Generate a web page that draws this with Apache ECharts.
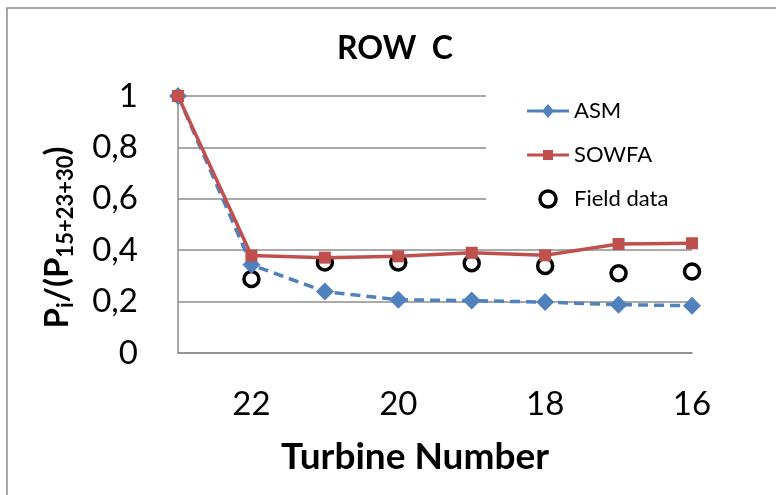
<!DOCTYPE html>
<html lang="en">
  <head>
    <meta charset="UTF-8" />
    <title>ROW C</title>
    <script src="https://cdn.jsdelivr.net/npm/echarts@6/dist/echarts.min.js"></script>
    <style>
      body { margin: 0; background: #fff; }
      #main { width: 776px; height: 495px; }
    </style>
  </head>
  <body>
    <div id="main"></div>
    <script type="text/javascript">
      const turbines = ["23", "22", "21", "20", "19", "18", "17", "16"]
      const asm = [1.0, 0.343, 0.239, 0.207, 0.204, 0.198, 0.188, 0.184]
      const sowfa = [1.0, 0.379, 0.371, 0.376, 0.39, 0.38, 0.424, 0.427]
      const field = ["-", 0.288, 0.352, 0.352, 0.349, 0.339, 0.31, 0.317]

      const font = "Lato"
      // legend icons: thick line + marker, boxed to 42x16 by tiny corner specks
      const box = "M0,0L0.1,0L0,0.1Z M42,16L41.9,16L42,15.9Z "
      const asmIcon = "path://" + box + "M0,6.5H42V9.5H0Z M21,1L27,8L21,15L15,8Z"
      const sowfaIcon = "path://" + box + "M0,6.5H42V9.5H0Z M16,3H26V13H16Z"

      const chart = echarts.init(document.getElementById("main"))

      chart.setOption({
        animation: false,
        backgroundColor: "#fff",
        textStyle: { fontFamily: font },
        graphic: [
          {
            type: "polyline",
            shape: { points: [[7, 500], [7, 8], [790, 8]] },
            style: { stroke: "#8c8c8c", lineWidth: 1.5, fill: null },
          },
        ],
        title: {
          text: "ROW  C",
          left: 390,
          top: 28,
          textAlign: "center",
          textStyle: { fontFamily: font, fontSize: 32, fontWeight: "bold", color: "#000" },
        },
        legend: {
          left: 486,
          top: 88,
          orient: "vertical",
          backgroundColor: "#fff",
          padding: [12, 80, 12, 41],
          itemWidth: 42,
          itemHeight: 16,
          itemGap: 22,
          textStyle: { fontFamily: font, fontSize: 22, color: "#000" },
          data: [
            { name: "ASM", icon: asmIcon },
            { name: "SOWFA", icon: sowfaIcon },
            { name: "Field data", itemStyle: { borderWidth: 3.5 } },
          ],
        },
        grid: { left: 178, right: 84, top: 96, bottom: 142 },
        xAxis: {
          type: "category",
          data: turbines,
          boundaryGap: false,
          name: "Turbine Number",
          nameLocation: "middle",
          nameGap: 86,
          nameTextStyle: {
            fontFamily: font,
            fontSize: 37,
            fontWeight: "bold",
            color: "#000",
            padding: [0, 40, 0, 0],
          },
          axisLine: { lineStyle: { color: "#8c8c8c", width: 1.5 } },
          axisTick: { show: false },
          axisLabel: {
            margin: 35,
            fontSize: 33,
            color: "#000",
            interval: (i) => i % 2 === 1,
          },
        },
        yAxis: {
          type: "value",
          min: 0,
          max: 1,
          interval: 0.2,
          name: "{b|P}{s|i}{b|/(P}{s|15+23+30}{b|)}",
          nameLocation: "middle",
          nameRotate: 90,
          nameGap: 101,
          nameTextStyle: {
            padding: [0, 26, 0, 0],
            rich: {
              b: { fontFamily: font, fontSize: 33, fontWeight: "bold", color: "#000", lineHeight: 40 },
              s: { fontFamily: font, fontSize: 22, fontWeight: "bold", color: "#000", lineHeight: 32, verticalAlign: "bottom" },
            },
          },
          axisLine: { show: true, lineStyle: { color: "#8c8c8c", width: 1.5 } },
          axisTick: { show: false },
          splitLine: { lineStyle: { color: "#8c8c8c", width: 1.5 } },
          axisLabel: {
            margin: 40,
            fontSize: 33,
            color: "#000",
            formatter: (v) => String(Math.round(v * 10) / 10).replace(".", ","),
          },
        },
        series: [
          {
            name: "ASM",
            type: "line",
            data: asm,
            symbol: "diamond",
            symbolSize: 18,
            color: "#4f81bd",
            lineStyle: { color: "#4f81bd", width: 3.5, type: [10, 6] },
            itemStyle: { color: "#4f81bd" },
          },
          {
            name: "SOWFA",
            type: "line",
            data: sowfa,
            symbol: "rect",
            symbolSize: 12,
            color: "#c0504d",
            lineStyle: { color: "#c0504d", width: 3.5 },
            itemStyle: { color: "#c0504d" },
          },
          {
            name: "Field data",
            type: "scatter",
            data: field,
            symbol: "circle",
            symbolSize: 15,
            itemStyle: { color: "#fff", borderColor: "#000", borderWidth: 3.5, opacity: 1 },
          },
        ],
      })
    </script>
  </body>
</html>
